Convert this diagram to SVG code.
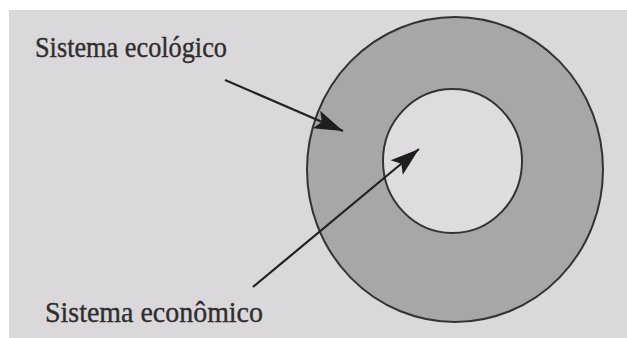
<svg xmlns="http://www.w3.org/2000/svg" width="627" height="338" viewBox="0 0 627 338">
  <style>
    .label { font-family: "Liberation Serif", "Times New Roman", serif; font-size: 28px; fill: #2e2e2e; stroke: #2e2e2e; stroke-width: 0.35; }
    .ring { stroke: #333333; stroke-width: 2; }
    .conn { stroke: #222222; stroke-width: 2.2; fill: none; }
  </style>
  <defs>
    <marker id="head" markerUnits="userSpaceOnUse" viewBox="-31 -11 33 22" refX="0" refY="0" markerWidth="33" markerHeight="22" orient="auto">
      <path d="M0,0 L-29,-9.5 L-23,0 L-29,9.5 Z" fill="#1e1e1e"/>
    </marker>
  </defs>
  <rect x="0" y="0" width="627" height="338" fill="#ffffff"/>
  <rect x="9" y="10" width="618" height="328" fill="#dad8da"/>

  <g id="sistema-ecologico">
    <ellipse class="ring" cx="455" cy="169.5" rx="148" ry="152.5" fill="#a8a6a8"/>
    <text class="label" transform="translate(35,57) scale(1,1.08)" textLength="192" lengthAdjust="spacingAndGlyphs">Sistema ecológico</text>
  </g>
  <g id="sistema-economico">
    <ellipse class="ring" cx="452.5" cy="161" rx="69.5" ry="72" fill="#dedcde"/>
    <text class="label" transform="translate(45,322) scale(1,1.08)" textLength="218" lengthAdjust="spacingAndGlyphs">Sistema econômico</text>
  </g>

  <g id="connectors">
    <line class="conn" x1="225" y1="80" x2="343" y2="131" marker-end="url(#head)"/>
    <line class="conn" x1="253" y1="287" x2="419" y2="149" marker-end="url(#head)"/>
  </g>
</svg>
